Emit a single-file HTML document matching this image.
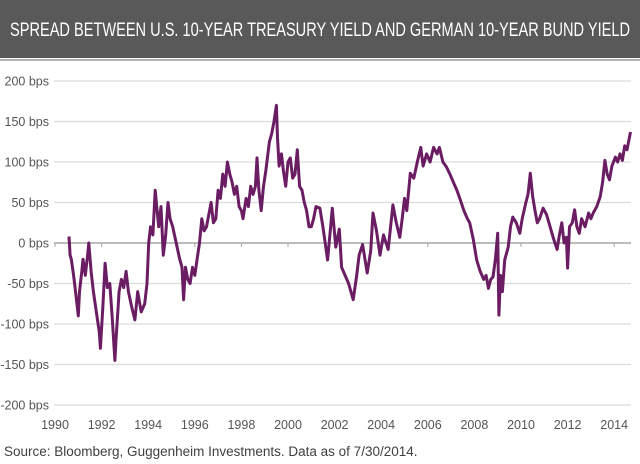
<!DOCTYPE html>
<html><head><meta charset="utf-8"><style>
html,body{margin:0;padding:0;background:#fff;}
svg{display:block;}
</style></head><body>
<svg id="chart" width="640" height="464" viewBox="0 0 640 464" xmlns="http://www.w3.org/2000/svg" font-family="'Liberation Sans', Arial, sans-serif">
  <rect x="0" y="0" width="640" height="58" fill="#595959"/>
  <line x1="0" y1="60" x2="640" y2="60" stroke="#9a9a9a" stroke-width="1.5"/>
  <text x="320" y="36" text-anchor="middle" fill="#fff" font-size="19" font-family="'Liberation Sans Narrow','Liberation Sans',sans-serif" textLength="620" lengthAdjust="spacingAndGlyphs">SPREAD BETWEEN U.S. 10-YEAR TREASURY YIELD AND GERMAN 10-YEAR BUND YIELD</text>
  <g id="grid"></g>
  <g id="yticks"></g>
  <g id="xticks"></g>
  <g id="series"></g>
  <text x="4" y="456" fill="#404040" font-size="13.5">Source: Bloomberg, Guggenheim Investments. Data as of 7/30/2014.</text>
</svg>
<script>
const yTickValues = [200,150,100,50,0,-50,-100,-150,-200];
const xTickYears = [1990,1992,1994,1996,1998,2000,2002,2004,2006,2008,2010,2012,2014];
const dates = [
1990.6,1990.65,1990.7,1990.8,1990.9,
1991.0,1991.05,1991.15,1991.2,1991.3,1991.4,1991.45,1991.55,1991.65,1991.8,1991.9,1991.95,
1992.05,1992.15,1992.25,1992.35,1992.45,1992.57,1992.62,1992.75,1992.85,1992.95,
1993.05,1993.15,1993.3,1993.43,1993.55,1993.7,1993.85,1993.95,
1994.02,1994.1,1994.2,1994.3,1994.38,1994.45,1994.55,1994.65,1994.75,1994.85,1994.94,
1995.05,1995.2,1995.35,1995.45,1995.52,1995.6,1995.7,1995.8,1995.9,
1996.0,1996.1,1996.2,1996.3,1996.4,1996.5,1996.6,1996.7,1996.8,1996.9,
1997.0,1997.1,1997.2,1997.3,1997.4,1997.5,1997.6,1997.7,1997.8,1997.9,
1998.0,1998.07,1998.2,1998.3,1998.4,1998.5,1998.6,1998.67,1998.75,1998.85,1998.95,
1999.05,1999.2,1999.3,1999.4,1999.5,1999.55,1999.62,1999.72,1999.8,1999.9,
2000.0,2000.1,2000.2,2000.3,2000.4,2000.5,2000.6,2000.7,2000.8,2000.9,
2001.0,2001.1,2001.2,2001.37,2001.5,2001.7,2001.9,
2002.05,2002.2,2002.3,2002.45,2002.6,2002.8,2002.95,
2003.05,2003.2,2003.4,2003.55,2003.65,2003.8,2003.95,
2004.1,2004.3,2004.5,2004.65,2004.8,2004.9,
2005.0,2005.1,2005.25,2005.4,2005.55,2005.7,2005.8,2005.95,
2006.1,2006.25,2006.4,2006.5,2006.65,2006.8,2006.95,
2007.1,2007.25,2007.4,2007.55,2007.7,2007.8,2007.95,
2008.1,2008.25,2008.4,2008.5,2008.6,2008.7,2008.8,2008.9,
2009.0,2009.05,2009.12,2009.2,2009.3,2009.45,2009.55,2009.65,2009.8,2009.95,
2010.05,2010.2,2010.3,2010.4,2010.5,2010.6,2010.7,2010.8,2010.95,
2011.1,2011.25,2011.4,2011.55,2011.65,2011.75,2011.85,2011.95,
2012.0,2012.08,2012.2,2012.3,2012.4,2012.5,2012.6,2012.75,2012.9,
2013.0,2013.1,2013.25,2013.4,2013.5,2013.6,2013.7,2013.8,2013.9,
2014.05,2014.15,2014.25,2014.35,2014.45,2014.55,2014.7];
const spreads = [
8,-15,-20,-40,-65,
-90,-60,-35,-20,-40,-15,0,-35,-60,-90,-110,-130,
-80,-25,-55,-50,-90,-145,-120,-60,-45,-55,
-35,-60,-80,-95,-60,-85,-75,-50,
0,20,10,65,40,20,45,-15,10,50,30,
20,0,-20,-30,-70,-30,-45,-50,-30,
-40,-20,0,30,15,20,35,50,25,30,
65,55,85,70,100,85,75,60,70,45,
40,30,55,45,70,60,70,105,65,40,70,
90,125,135,150,170,130,95,110,90,70,
100,105,80,85,115,70,65,50,40,20,
20,30,45,43,20,-21,43,
-5,17,-30,-40,-50,-70,-40,
-15,-2,-37,-10,37,15,-15,
10,-8,47,25,7,30,
55,40,86,80,100,118,95,110,
100,118,110,118,100,94,85,
75,65,53,40,30,25,5,
-21,-35,-45,-40,-56,-45,-42,-20,
12,-89,-40,-60,-21,-5,20,32,25,12,
30,49,60,86,57,40,25,30,43,
35,20,5,-8,10,25,0,7,
-31,20,25,41,20,12,30,20,37,
30,37,45,57,75,102,85,78,95,
106,100,110,102,120,115,137];

const X0 = 55, PXY = 23.3, Y0 = 243, PXV = 0.81;
const xScale = d => X0 + (d - 1990) * PXY;
const yScale = v => Y0 - v * PXV;
const NS = 'http://www.w3.org/2000/svg';
const grid = document.getElementById('grid');
const yt = document.getElementById('yticks');
const xt = document.getElementById('xticks');
const ser = document.getElementById('series');

yTickValues.forEach(v => {
  const l = document.createElementNS(NS, 'line');
  
  
  l.setAttribute('x1', 54); l.setAttribute('x2', 631);
  l.setAttribute('y1', yScale(v)); l.setAttribute('y2', yScale(v));
  l.setAttribute('stroke', v === 0 ? '#a6a6a6' : '#dcdcdc');
  l.setAttribute('stroke-width', v === 0 ? 1.5 : 1.2);
  grid.appendChild(l);
  const t = document.createElementNS(NS, 'text');
  
  
  t.setAttribute('x', 49); t.setAttribute('y', yScale(v) + 4.5);
  t.setAttribute('text-anchor', 'end'); t.setAttribute('font-size', '12.5');
  t.setAttribute('fill', '#555');
  t.textContent = v + ' bps';
  yt.appendChild(t);
});
xTickYears.forEach(y => {
  const tk = document.createElementNS(NS, 'line');
  
  
  tk.setAttribute('x1', xScale(y)); tk.setAttribute('x2', xScale(y));
  tk.setAttribute('y1', Y0); tk.setAttribute('y2', Y0 + 4);
  tk.setAttribute('stroke', '#a6a6a6');
  xt.appendChild(tk);
  const t = document.createElementNS(NS, 'text');
  
  
  t.setAttribute('x', xScale(y)); t.setAttribute('y', 429);
  t.setAttribute('text-anchor', 'middle'); t.setAttribute('font-size', '12.5');
  t.setAttribute('fill', '#555');
  t.textContent = y;
  xt.appendChild(t);
});
const n = Math.min(dates.length, spreads.length);
const pts = [];
for (let i = 0; i < n; i++) pts.push(xScale(dates[i]).toFixed(1) + ',' + yScale(spreads[i]).toFixed(1));
const p = document.createElementNS(NS, 'polyline');


p.setAttribute('points', pts.join(' '));
p.setAttribute('fill', 'none');
p.setAttribute('stroke', '#6b1d63');
p.setAttribute('stroke-width', '3');
p.setAttribute('stroke-linejoin', 'round');
ser.appendChild(p);
</script>
</body></html>
